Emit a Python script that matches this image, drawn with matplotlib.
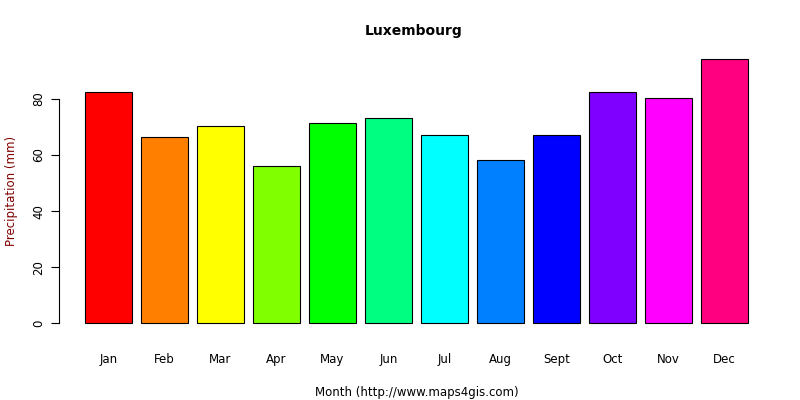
import matplotlib
matplotlib.use("Agg")
import matplotlib.pyplot as plt

months = ["Jan","Feb","Mar","Apr","May","Jun","Jul","Aug","Sept","Oct","Nov","Dec"]
precip = [82.5, 66.4, 70.4, 56, 71.4, 73.2, 67.1, 58.2, 67, 82.5, 80.4, 94.3]
colors = ["#FF0000","#FF8000","#FFFF00","#80FF00","#00FF00","#00FF80",
          "#00FFFF","#0080FF","#0000FF","#8000FF","#FF00FF","#FF0080"]

fig = plt.figure(figsize=(8, 4), dpi=100)
ax = fig.add_axes([59/800, 1-334/400, (775-59)/800, (334-48)/400])
xs = [0.7 + 1.2*i for i in range(len(months))]
ax.bar(xs, precip, width=1.0, color=colors, edgecolor="black", linewidth=0.8)
ax.set_xlim(-0.358, 14.98)
ax.set_ylim(-3.77, 98.07)
for s in ["top", "right", "bottom"]:
    ax.spines[s].set_visible(False)
ax.spines["left"].set_bounds(0, 80)
ax.set_yticks([0, 20, 40, 60, 80])
ax.set_yticklabels(["0","20","40","60","80"], rotation=90, va="center", fontsize=8.5)
ax.tick_params(axis="y", length=6, pad=4)
ax.set_xticks(xs)
ax.set_xticklabels(months, fontsize=8.5)
ax.tick_params(axis="x", length=0, pad=14)
ax.set_xlabel("Month (http://www.maps4gis.com)", fontsize=8.5, labelpad=14)
ax.set_ylabel("Precipitation (mm)", fontsize=8.5, color="#800000", labelpad=10)
fig.text(0.517, 1-31/400, "Luxembourg", ha="center", va="center", fontsize=10, fontweight="bold")
fig.savefig("out.png", dpi=100)
